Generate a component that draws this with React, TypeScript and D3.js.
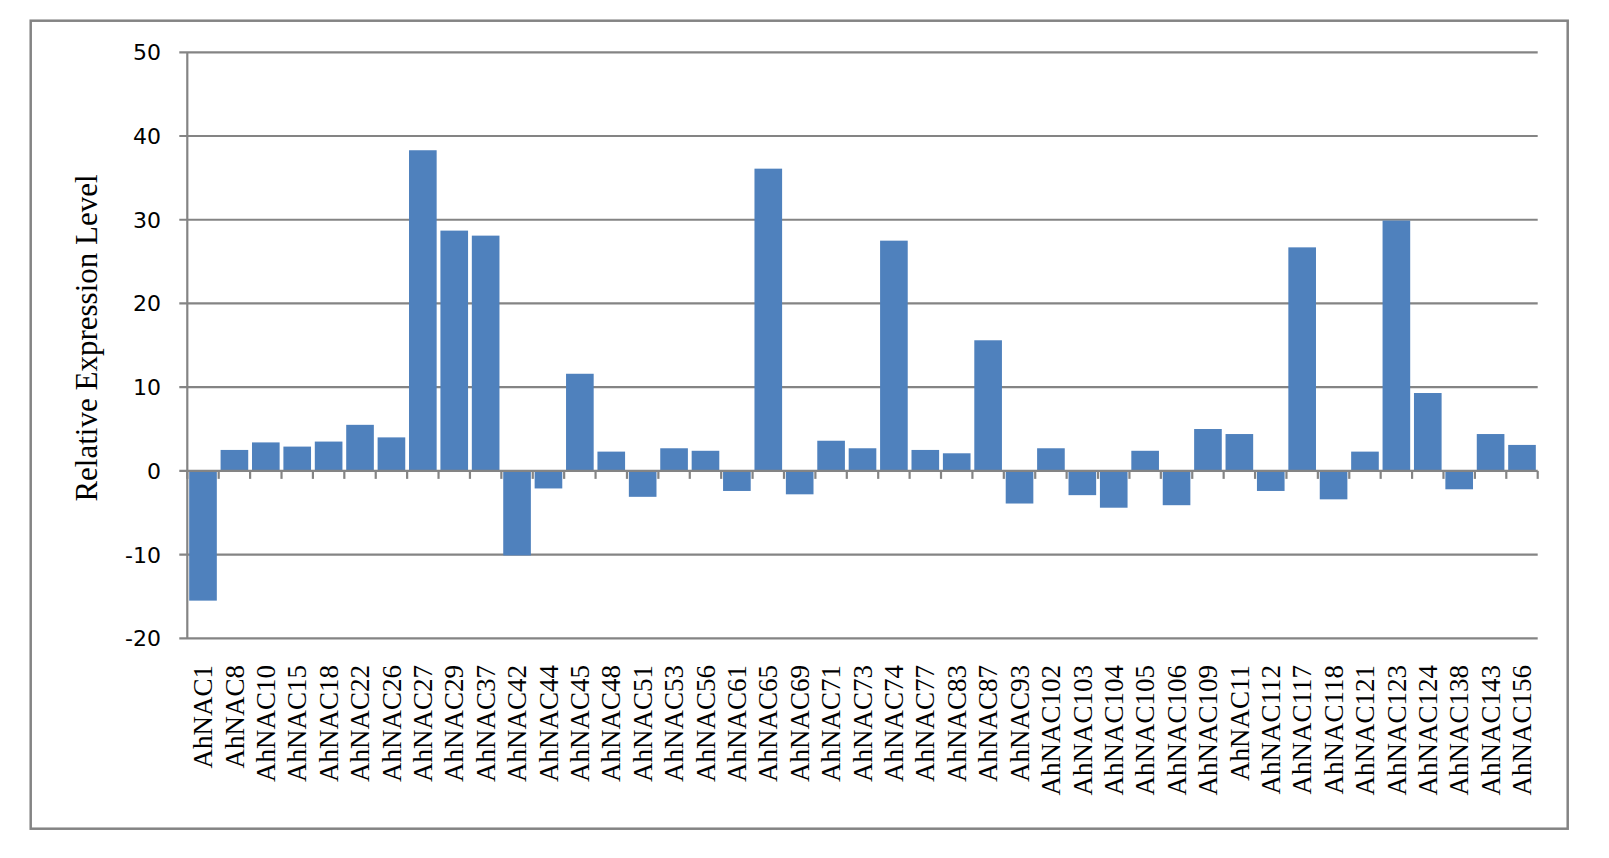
import { useEffect, useRef } from 'react';
import * as d3 from 'd3';

// Gene names along the x axis
const GENES: string[] = [
  'AhNAC1', 'AhNAC8', 'AhNAC10', 'AhNAC15', 'AhNAC18', 'AhNAC22', 'AhNAC26', 'AhNAC27',
  'AhNAC29', 'AhNAC37', 'AhNAC42', 'AhNAC44', 'AhNAC45', 'AhNAC48', 'AhNAC51', 'AhNAC53',
  'AhNAC56', 'AhNAC61', 'AhNAC65', 'AhNAC69', 'AhNAC71', 'AhNAC73', 'AhNAC74', 'AhNAC77',
  'AhNAC83', 'AhNAC87', 'AhNAC93', 'AhNAC102', 'AhNAC103', 'AhNAC104', 'AhNAC105', 'AhNAC106',
  'AhNAC109', 'AhNAC11', 'AhNAC112', 'AhNAC117', 'AhNAC118', 'AhNAC121', 'AhNAC123', 'AhNAC124',
  'AhNAC138', 'AhNAC143', 'AhNAC156',
];

// Relative expression level, one per gene
const LEVELS: number[] = [
  -15.5, 2.5, 3.4, 2.9, 3.5, 5.5, 4.0, 38.3,
  28.7, 28.1, -10.1, -2.1, 11.6, 2.3, -3.1, 2.7,
  2.4, -2.4, 36.1, -2.8, 3.6, 2.7, 27.5, 2.5,
  2.1, 15.6, -3.9, 2.7, -2.9, -4.4, 2.4, -4.1,
  5.0, 4.4, -2.4, 26.7, -3.4, 2.3, 29.9, 9.3,
  -2.2, 4.4, 3.1,
];

const Y_TICKS: number[] = [-20, -10, 0, 10, 20, 30, 40, 50];

const W = 1609;
const H = 858;
const GRID = '#848484';
const BAR = '#4f81bd';

export default function App() {
  const svgRef = useRef<SVGSVGElement>(null);

  useEffect(() => {
    if (!svgRef.current) return;
    const svg = d3.select(svgRef.current);
    svg.selectAll('*').remove();

    const left = 187.3, right = 1537.7, top = 52.3, bottom = 638.3;

    const x = d3.scaleBand<string>().domain(GENES).range([left, right])
      .paddingInner(0.12).paddingOuter(0.06);
    const y = d3.scaleLinear().domain([-20, 50]).range([bottom, top]);

    // outer chart border
    svg.append('rect')
      .attr('x', 30.7).attr('y', 20.7).attr('width', 1567.7 - 30.7).attr('height', 828.7 - 20.7)
      .attr('fill', '#fff').attr('stroke', GRID).attr('stroke-width', 2.5);

    // ── Gridlines + y ticks ────────────────────────────────────────────────
    const gridG = svg.append('g');
    Y_TICKS.filter(t => t !== 0).forEach(t => {
      gridG.append('line')
        .attr('x1', left - 8).attr('x2', right)
        .attr('y1', y(t)).attr('y2', y(t))
        .attr('stroke', GRID).attr('stroke-width', 2.2);
    });

    const labelsG = svg.append('g')
      .attr('font-family', 'DejaVu Sans, sans-serif')
      .attr('font-size', 22)
      .attr('fill', '#000');
    Y_TICKS.forEach(t => {
      labelsG.append('text')
        .attr('x', 161).attr('y', y(t))
        .attr('dy', '0.36em')
        .attr('text-anchor', 'end')
        .text(String(t));
    });

    // ── Bars ───────────────────────────────────────────────────────────────
    svg.append('g').selectAll('rect')
      .data(GENES.map((g, i) => ({ g, v: LEVELS[i] })))
      .enter().append('rect')
      .attr('x', d => x(d.g) ?? 0)
      .attr('width', x.bandwidth())
      .attr('y', d => y(Math.max(0, d.v)))
      .attr('height', d => Math.abs(y(d.v) - y(0)))
      .attr('fill', BAR);

    // ── Axes ───────────────────────────────────────────────────────────────
    const axisG = svg.append('g').attr('stroke', GRID).attr('stroke-width', 2.2);
    axisG.append('line')
      .attr('x1', left).attr('x2', left).attr('y1', top).attr('y2', bottom);
    axisG.append('line')
      .attr('x1', left - 8).attr('x2', right).attr('y1', y(0)).attr('y2', y(0));
    const step = x.step();
    for (let i = 0; i <= GENES.length; i++) {
      const bx = left + i * step;
      axisG.append('line')
        .attr('x1', bx).attr('x2', bx).attr('y1', y(0)).attr('y2', y(0) + 8);
    }

    // ── Category labels (rotated) ──────────────────────────────────────────
    const catG = svg.append('g')
      .attr('font-family', 'Liberation Serif, Times New Roman, serif')
      .attr('font-size', 27)
      .attr('fill', '#000');
    GENES.forEach(g => {
      const cx = (x(g) ?? 0) + x.bandwidth() / 2;
      catG.append('text')
        .attr('transform', `translate(${cx},665) rotate(-90)`)
        .attr('text-anchor', 'end')
        .attr('dy', '0.34em')
        .text(g);
    });

    // y axis title
    svg.append('text')
      .attr('transform', 'translate(86,338) rotate(-90)')
      .attr('text-anchor', 'middle')
      .attr('dy', '0.34em')
      .attr('font-family', 'Liberation Serif, Times New Roman, serif')
      .attr('font-size', 31)
      .attr('fill', '#000')
      .text('Relative Expression Level');
  }, []);

  return (
    <div style={{ position: 'fixed', left: 0, top: 0, width: W, height: H, background: '#fff' }}>
      <svg ref={svgRef} width={W} height={H} style={{ display: 'block' }} />
    </div>
  );
}
